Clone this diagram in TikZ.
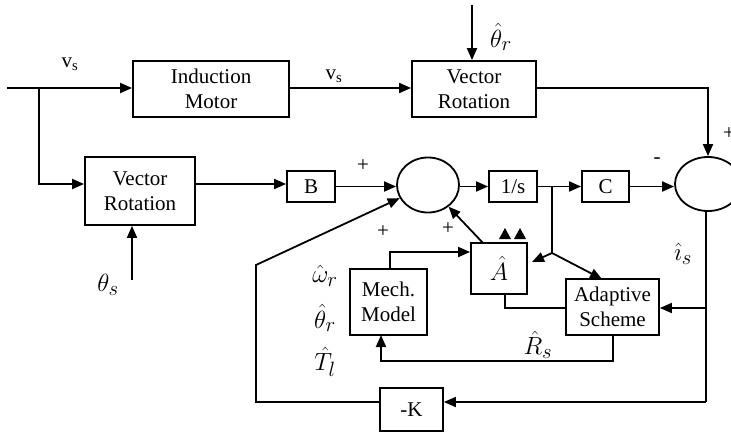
\documentclass[tikz,border=0pt]{standalone}
\usepackage{fontspec}
\setmainfont{Liberation Serif}
\usetikzlibrary{arrows.meta,shapes.geometric}
\begin{document}
\begin{tikzpicture}[x=1pt,y=-1pt,
  line width=1.8pt,
  every node/.style={font=\fontsize{21}{25}\selectfont, align=center, inner sep=0pt},
  blk/.style={draw, rectangle},
  sumj/.style={draw, ellipse},
  arr/.style={-{Triangle[length=12pt,width=10pt]}},
  ml/.style={font=\fontsize{28}{30}\selectfont},
  sgn/.style={font=\fontsize{21}{22}\selectfont}]
\useasboundingbox (0,0) rectangle (731,434);
\clip (0,0) rectangle (731,434);
% blocks
\node[blk, minimum width=156pt, minimum height=56pt] (im) at (211,89) {Induction\\Motor};
\node[blk, minimum width=124pt, minimum height=56pt] (vr1) at (474,89) {Vector\\Rotation};
\node[blk, minimum width=110pt, minimum height=68pt] (vr2) at (140,191) {Vector\\Rotation};
\node[blk, minimum width=48pt, minimum height=31pt] (b) at (311,186.5) {B};
\node[sumj, minimum width=62pt, minimum height=55pt] (s1) at (428,185) {};
\node[blk, minimum width=48pt, minimum height=31pt] (is) at (513,186.5) {1/s};
\node[blk, minimum width=47pt, minimum height=31pt] (c) at (605.5,186.5) {C};
\node[sumj, minimum width=66pt, minimum height=54pt] (s2) at (708,184) {};
\node[blk, minimum width=56pt, minimum height=51pt] (ah) at (499,268.5) {\fontsize{28}{30}\selectfont$\hat{A}$};
\node[blk, minimum width=77pt, minimum height=66pt] (mech) at (388.5,302) {Mech.\\Model};
\node[blk, minimum width=93pt, minimum height=56pt] (ad) at (612.5,307) {Adaptive\\Scheme};
\node[blk, minimum width=63pt, minimum height=43pt] (k) at (411.5,409.5) {-K};
% coordinates
\coordinate (in) at (7,88);
\coordinate (br1) at (39,88);
\coordinate (br1b) at (39,184);
\coordinate (thr) at (472,5);
\coordinate (ths) at (132,280);
\coordinate (br2) at (552,186.5);
\coordinate (br2b) at (552,253);
\coordinate (ahin) at (532,262);
\coordinate (adin) at (602,279);
\coordinate (ahtop) at (483,243);
\coordinate (mtop) at (390,252);
\coordinate (ahbot) at (505,294);
\coordinate (br3) at (706,308);
\coordinate (br4) at (706,402);
\coordinate (adb) at (613,361);
\coordinate (mbot) at (381,335);
\coordinate (fb1) at (256,402);
\coordinate (fb2) at (256,265);
% connectors
\draw[arr] (in) -- (im.west |- in);
\draw[arr] (br1) -- (br1b) -- (vr2.west |- br1b);
\draw[arr] (im.east |- in) -- (vr1.west |- in);
\draw[arr] (thr) -- (vr1.north -| thr);
\draw[arr] (vr1.east |- in) -| (s2.north);
\draw[arr] (ths) -- (vr2.south -| ths);
\draw[arr] (vr2.east |- br1b) -- (b.west |- br1b);
\draw[arr] (b.east) -- (s1.west |- b.east);
\draw[arr] (s1.east |- b.east) -- (is.west);
\draw[arr] (is.east) -- (c.west);
\draw[arr] (c.east) -- (s2.west |- c.east);
\draw (br2) -- (br2b);
\draw[arr] (br2b) -- (ahin);
\draw[arr] (br2b) -- (adin);
\draw[arr] (ahtop) -- (s1);
\draw[arr] (mech.north -| mtop) -- (mtop) -- (ah.west |- mtop);
\draw (ad.west |- br3) -| (ahbot);
\draw (s2.south -| br3) -- (br4);
\draw[arr] (br3) -- (ad.east |- br3);
\draw[arr] (br4) -- (k.east |- br4);
\draw[arr] (ad.south -| adb) -- (adb) -| (mbot);
\draw[arr] (k.west |- br4) -- (fb1) -- (fb2) -- (s1);
% small triangles above A-hat
\fill (499,239) -- (505,228) -- (511,239) -- cycle;
\fill (514,239) -- (520,228) -- (526,239) -- cycle;
% labels
\node at (70,64) {v$_{\mathrm{s}}$};
\node at (334,76) {v$_{\mathrm{s}}$};
\node[ml] at (501,37) {$\hat{\theta}_r$};
\node[ml] at (108,285) {$\theta_s$};
\node[sgn] at (363,166) {+};
\node[sgn] at (383,232) {+};
\node[sgn] at (448,229) {+};
\node[sgn] at (657,161) {-};
\node[sgn] at (729,134) {+};
\node[ml] at (683,254) {$\hat{\imath}_s$};
\node[ml] at (538,345) {$\hat{R}_s$};
\node[ml] at (325,276) {$\hat{\omega}_r$};
\node[ml] at (325,318) {$\hat{\theta}_r$};
\node[ml] at (325,362) {$\hat{T}_l$};
\end{tikzpicture}
\end{document}
